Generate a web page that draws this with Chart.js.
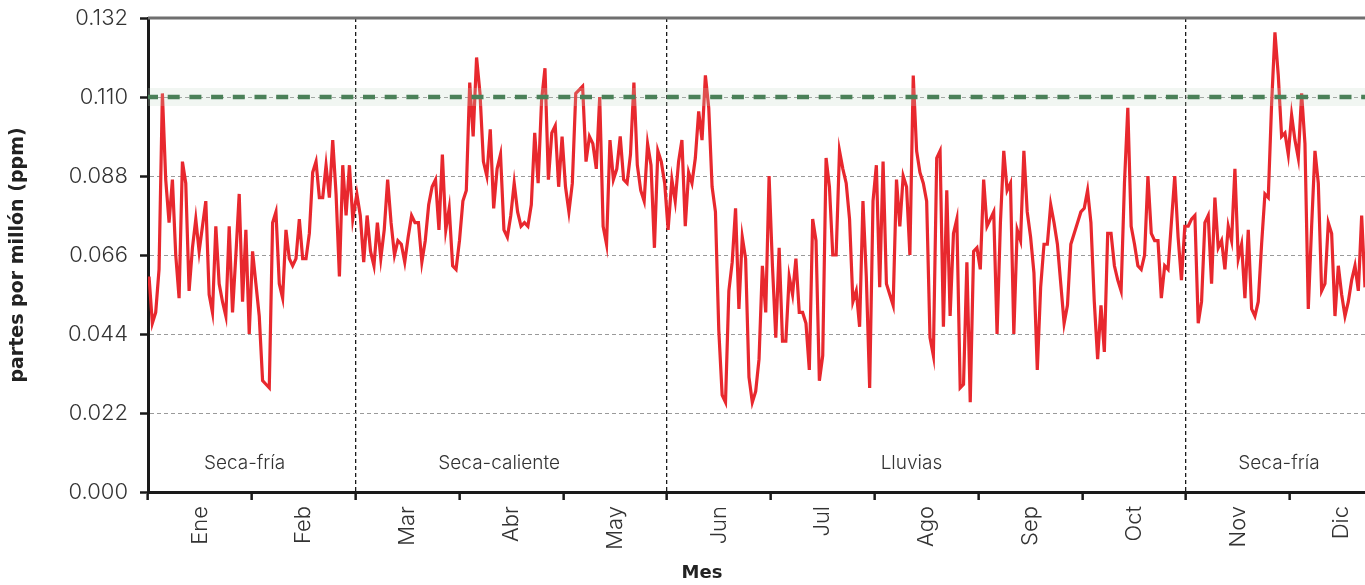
<!DOCTYPE html>
<html>
<head>
<meta charset="utf-8">
<script src="https://cdn.jsdelivr.net/npm/chart.js@4.4.1/dist/chart.umd.min.js"></script>
<style>
  html, body { margin: 0; padding: 0; background: #fff; }
  #wrap { width: 1365px; height: 585px; position: relative; }
</style>
</head>
<body>
<div id="wrap"><canvas id="chart"></canvas></div>
<script>
const months = ["Ene", "Feb", "Mar", "Abr", "May", "Jun", "Jul", "Ago", "Sep", "Oct", "Nov", "Dic"];
const yTicks = [0, 0.022, 0.044, 0.066, 0.088, 0.110, 0.132];
const threshold = 0.110;

// daily ozone maxima (ppm), one block per season
const ozoneJanFeb = [
  0.060, 0.047, 0.050, 0.062, 0.111, 0.087, 0.075, 0.087, 0.066, 0.054,
  0.092, 0.086, 0.056, 0.068, 0.076, 0.067, 0.074, 0.081, 0.055, 0.050,
  0.074, 0.058, 0.053, 0.049, 0.074, 0.050, 0.066, 0.083, 0.053, 0.073,
  0.044, 0.067, 0.058, 0.049, 0.031, 0.030, 0.029, 0.075, 0.078, 0.058,
  0.054, 0.073, 0.065, 0.063, 0.065, 0.076, 0.065, 0.065, 0.072, 0.089,
  0.092, 0.082, 0.082, 0.091, 0.082, 0.098, 0.083, 0.060, 0.091, 0.077,
  0.091, 0.076
];
const ozoneMarMay = [
  0.083, 0.077, 0.064, 0.077, 0.067, 0.063, 0.075, 0.065, 0.073, 0.087,
  0.075, 0.066, 0.070, 0.069, 0.064, 0.071, 0.077, 0.075, 0.075, 0.064,
  0.070, 0.080, 0.085, 0.087, 0.073, 0.094, 0.073, 0.079, 0.063, 0.062,
  0.070, 0.081, 0.084, 0.114, 0.099, 0.121, 0.111, 0.092, 0.088, 0.101,
  0.079, 0.090, 0.094, 0.073, 0.071, 0.077, 0.086, 0.078, 0.074, 0.075,
  0.074, 0.080, 0.100, 0.086, 0.109, 0.118, 0.087, 0.100, 0.102, 0.085,
  0.099, 0.085, 0.078, 0.086, 0.111, 0.112, 0.113, 0.092, 0.099, 0.097,
  0.090, 0.110, 0.074, 0.069, 0.098, 0.087, 0.090, 0.099, 0.087, 0.086,
  0.094, 0.114, 0.091, 0.084, 0.081, 0.097, 0.091, 0.068, 0.095, 0.092,
  0.086, 0.073
];
const ozoneJunOct = [
  0.087, 0.081, 0.092, 0.098, 0.074, 0.089, 0.086, 0.093, 0.106, 0.098,
  0.116, 0.107, 0.085, 0.078, 0.045, 0.027, 0.025, 0.056, 0.064, 0.079,
  0.051, 0.071, 0.065, 0.032, 0.025, 0.028, 0.037, 0.063, 0.050, 0.088,
  0.063, 0.043, 0.068, 0.042, 0.042, 0.060, 0.055, 0.065, 0.050, 0.050,
  0.047, 0.034, 0.076, 0.070, 0.031, 0.038, 0.093, 0.085, 0.066, 0.066,
  0.095, 0.090, 0.086, 0.076, 0.053, 0.056, 0.046, 0.081, 0.060, 0.029,
  0.081, 0.091, 0.057, 0.092, 0.058, 0.055, 0.052, 0.087, 0.074, 0.088,
  0.085, 0.066, 0.116, 0.095, 0.089, 0.086, 0.081, 0.043, 0.038, 0.093,
  0.095, 0.046, 0.084, 0.049, 0.072, 0.076, 0.029, 0.030, 0.064, 0.025,
  0.067, 0.068, 0.062, 0.087, 0.074, 0.076, 0.078, 0.044, 0.075, 0.095,
  0.084, 0.086, 0.044, 0.073, 0.070, 0.095, 0.078, 0.071, 0.061, 0.034,
  0.057, 0.069, 0.069, 0.080, 0.075, 0.069, 0.058, 0.047, 0.052, 0.069,
  0.072, 0.075, 0.078, 0.079, 0.084, 0.075, 0.053, 0.037, 0.052, 0.039,
  0.072, 0.072, 0.063, 0.059, 0.056, 0.086, 0.107, 0.074, 0.069, 0.063,
  0.062, 0.066, 0.088, 0.072, 0.070, 0.070, 0.054, 0.063, 0.062, 0.075,
  0.088, 0.071, 0.059, 0.074
];
const ozoneNovDic = [
  0.074, 0.076, 0.077, 0.047, 0.053, 0.075, 0.077, 0.058, 0.082, 0.068,
  0.070, 0.062, 0.074, 0.070, 0.090, 0.065, 0.069, 0.054, 0.073, 0.051,
  0.049, 0.053, 0.069, 0.083, 0.082, 0.108, 0.128, 0.116, 0.099, 0.100,
  0.094, 0.105, 0.098, 0.093, 0.111, 0.097, 0.051, 0.074, 0.095, 0.086,
  0.056, 0.058, 0.075, 0.072, 0.049, 0.063, 0.055, 0.049, 0.053, 0.059,
  0.063, 0.056, 0.077, 0.057
];
// first and last day of year covered by each block
const blockDays = [[0.3, 60.0], [61.2, 152.4], [153.5, 303.8], [304.8, 356.6]];

const seasons = ["Seca-fría", "Seca-caliente", "Lluvias", "Seca-fría"];
const seasonBreaks = [2, 5, 10];          // month boundaries between seasons
const seasonLabelDay = [28.3, 102.9, 223.7, 331.4];

const DAYS_PER_MONTH = 365 / 12;
const X_MAX = 356.6;                       // figure is cropped before 31 Dec

const ozonePoints = [];
[ozoneJanFeb, ozoneMarMay, ozoneJunOct, ozoneNovDic].forEach((block, b) => {
  const [d0, d1] = blockDays[b];
  const step = (d1 - d0) / (block.length - 1);
  block.forEach((v, i) => ozonePoints.push({ x: d0 + i * step, y: v }));
});

const FONT = "Inter";
const TEXT = "#333333";

function isBoundary(v) {
  const m = v / DAYS_PER_MONTH;
  return Math.abs(m - Math.round(m)) < 1e-6;
}

const extras = {
  id: "extras",
  afterDraw(chart) {
    const { ctx, chartArea } = chart;
    const x = chart.scales.x;
    ctx.save();
    // top frame line
    ctx.strokeStyle = "#6f6f6f";
    ctx.lineWidth = 3;
    ctx.beginPath();
    ctx.moveTo(chartArea.left, chartArea.top);
    ctx.lineTo(chartArea.right, chartArea.top);
    ctx.stroke();
    // season names
    ctx.fillStyle = TEXT;
    ctx.font = "300 19px " + FONT;
    ctx.textAlign = "center";
    ctx.textBaseline = "middle";
    seasons.forEach((s, i) => {
      ctx.fillText(s, x.getPixelForValue(seasonLabelDay[i]), chartArea.bottom - 29);
    });
    // x axis title
    ctx.fillStyle = "#222";
    ctx.font = "bold 18px 'DejaVu Sans'";
    ctx.fillText("Mes", 702, 573);
    ctx.restore();
  }
};

new Chart(document.getElementById("chart"), {
  type: "line",
  data: {
    datasets: [
      {
        label: "Norma",
        data: [{ x: 0, y: threshold }, { x: X_MAX, y: threshold }],
        borderColor: "#4a8058",
        borderWidth: 4.5,
        borderDash: [12, 9.7],
        borderDashOffset: 2,
        pointRadius: 0,
        order: 0,
      },
      {
        label: "halo",
        data: [{ x: 0, y: threshold }, { x: X_MAX, y: threshold }],
        borderColor: "rgba(190,214,196,0.22)",
        borderWidth: 18,
        pointRadius: 0,
        order: 1,
      },
      {
        label: "Ozono",
        data: ozonePoints,
        borderColor: "#e8282e",
        borderWidth: 3.2,
        pointRadius: 0,
        tension: 0,
        order: 2,
      },
    ],
  },
  options: {
    responsive: true,
    maintainAspectRatio: false,
    animation: false,
    layout: { padding: { top: 18, left: 0, right: 0, bottom: 0 } },
    plugins: { legend: { display: false }, tooltip: { enabled: false } },
    scales: {
      x: {
        type: "linear",
        min: 0,
        max: X_MAX,
        afterBuildTicks: (scale) => {
          const t = [];
          for (let m = 0; m < 12; m++) {
            if (m * DAYS_PER_MONTH <= X_MAX) t.push({ value: m * DAYS_PER_MONTH });
            if ((m + 0.5) * DAYS_PER_MONTH <= X_MAX) t.push({ value: (m + 0.5) * DAYS_PER_MONTH });
          }
          scale.ticks = t;
        },
        afterFit: (scale) => {
          scale.height = 93;
          scale.paddingLeft = 0;
          scale.paddingRight = 0;
        },
        border: { display: true, color: "#1a1a1a", width: 3, dash: [4, 3] },
        grid: {
          drawOnChartArea: true,
          color: (c) => {
            if (!c.tick || !isBoundary(c.tick.value)) return "rgba(0,0,0,0)";
            const m = Math.round(c.tick.value / DAYS_PER_MONTH);
            return seasonBreaks.includes(m) ? "#1a1a1a" : "rgba(0,0,0,0)";
          },
          lineWidth: 1.3,
          tickLength: 8,
          tickWidth: 2.5,
          tickColor: (c) => (c.tick && isBoundary(c.tick.value) ? "#1a1a1a" : "rgba(0,0,0,0)"),
        },
        ticks: {
          autoSkip: false,
          minRotation: 90,
          maxRotation: 90,
          padding: 6,
          color: TEXT,
          font: { family: FONT, size: 22, weight: 300 },
          callback: (v) => (isBoundary(v) ? "" : months[Math.floor(v / DAYS_PER_MONTH)]),
        },
      },
      y: {
        min: 0,
        max: 0.132,
        afterBuildTicks: (scale) => {
          scale.ticks = yTicks.map((v) => ({ value: v }));
        },
        afterFit: (scale) => {
          scale.width = 148;
          scale.paddingTop = 0;
          scale.paddingBottom = 0;
        },
        border: { display: true, color: "#1a1a1a", width: 3, dash: [4, 3] },
        grid: {
          color: (c) => (c.tick && (c.tick.value === 0 || c.tick.value === 0.132) ? "rgba(0,0,0,0)" : "#9a9a9a"),
          lineWidth: 1,
          tickLength: 8,
          tickWidth: 2.5,
          tickColor: "#1a1a1a",
        },
        ticks: {
          padding: 12,
          color: TEXT,
          font: { family: FONT, size: 22, weight: 300 },
          callback: (v) => v.toFixed(3),
        },
        title: {
          display: true,
          text: "partes por millón (ppm)",
          color: "#222",
          font: { family: "DejaVu Sans", size: 19, weight: "bold" },
          padding: { top: 7, bottom: 0 },
        },
      },
    },
  },
  plugins: [extras],
});
</script>
</body>
</html>
